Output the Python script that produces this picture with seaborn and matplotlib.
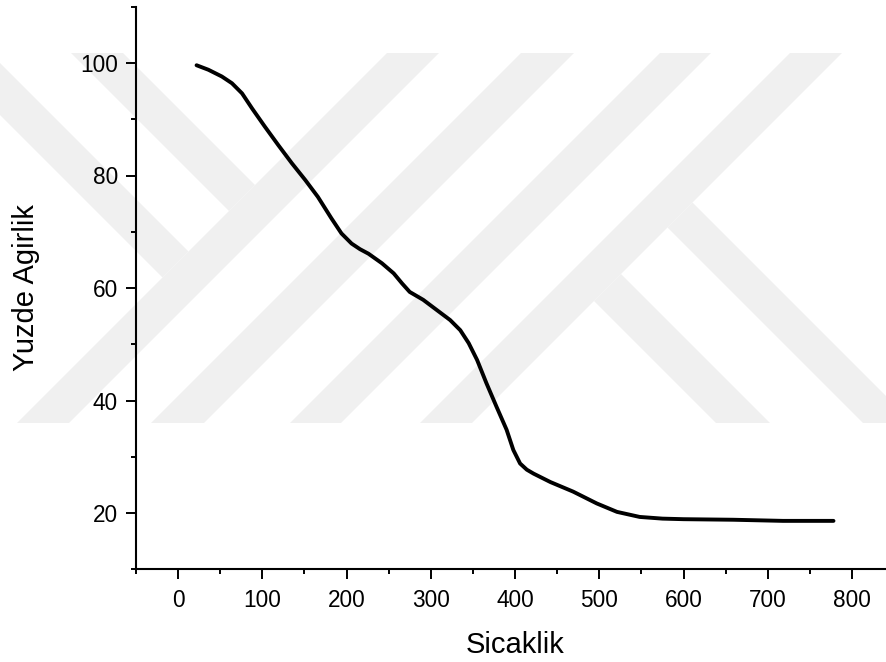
import numpy as np
import pandas as pd
import matplotlib
matplotlib.use("Agg")
import matplotlib.pyplot as plt
from matplotlib.patches import Polygon
from matplotlib.ticker import MultipleLocator
import seaborn as sns

# ---- data ----
temperature = [22, 36, 52, 64, 76, 88, 103, 119, 135, 151, 166, 182, 194, 206,
               216, 226, 242, 256, 266, 275, 291, 307, 323, 335, 345, 355,
               366, 378, 390, 398, 406, 414, 422, 442, 469, 497, 521, 548,
               575, 600, 659, 718, 778]
weight = [99.6, 98.8, 97.6, 96.4, 94.6, 91.9, 88.7, 85.4, 82.2, 79.2, 76.2,
          72.4, 69.7, 67.9, 66.9, 66.1, 64.4, 62.6, 60.8, 59.3, 57.9, 56.1,
          54.3, 52.5, 50.2, 47.2, 43.1, 38.9, 34.8, 31.2, 28.8, 27.7, 27.0,
          25.5, 23.8, 21.7, 20.2, 19.3, 19.0, 18.9, 18.8, 18.6, 18.6]
x_ticks = [0, 100, 200, 300, 400, 500, 600, 700, 800]
y_ticks = [20, 40, 60, 80, 100]
x_label = "Sicaklik"
y_label = "Yuzde Agirlik"

df = pd.DataFrame({"T": temperature, "W": weight})

sns.set_style("ticks")
plt.rcParams["font.family"] = ["Liberation Sans", "DejaVu Sans"]
for k in ["text.color", "axes.labelcolor", "xtick.color", "ytick.color",
          "axes.edgecolor"]:
    plt.rcParams[k] = "black"

W, H = 887, 662
fig = plt.figure(figsize=(W / 100, H / 100), dpi=100)
fig.patch.set_facecolor("white")

# ---- faint background watermark (pixel geometry) ----
def px(pts):
    return [(x / W, 1 - y / H) for x, y in pts]

y0, y1 = 53, 423
bands_c = [(440, 492), (574, 627), (713, 764), (843, 895)]
shapes = []
for c0, c1 in bands_c:
    shapes.append([(c0 - y0, y0), (c1 - y0, y0), (c1 - y1, y1), (c0 - y1, y1)])
shapes.append([(71, 53), (123, 53), (255, 185), (229, 211)])
shapes.append([(-62, 53), (-10, 53), (188.5, 251.5), (162.5, 277.5)])
shapes.append([(692.5, 202.5), (913, 423), (863, 423), (667.5, 227.5)])
shapes.append([(621, 274), (770, 423), (716, 423), (594, 301)])
for s in shapes:
    fig.patches.append(Polygon(px(s), closed=True, transform=fig.transFigure,
                               facecolor="#f0f0f0", edgecolor="none", zorder=-5))

# ---- axes ----
left_px, right_px = 135.9, 135.9 + 900 * 0.8425
bottom_px, top_px = 569.25, 6.75
ax = fig.add_axes([left_px / W, 1 - bottom_px / H,
                   (right_px - left_px) / W, (bottom_px - top_px) / H])
ax.set_zorder(2)
ax.patch.set_alpha(0)

sns.lineplot(data=df, x="T", y="W", ax=ax, color="black", linewidth=2.8,
             sort=False, estimator=None)
for ln in ax.get_lines():
    ln.set_solid_joinstyle("round")
    ln.set_solid_capstyle("round")

ax.set_xlim(-50, 850)
ax.set_ylim(10, 110)
ax.set_xticks(x_ticks)
ax.set_yticks(y_ticks)
ax.xaxis.set_minor_locator(MultipleLocator(50))
ax.yaxis.set_minor_locator(MultipleLocator(10))

for side in ["top", "right"]:
    ax.spines[side].set_visible(False)
for side in ["left", "bottom"]:
    ax.spines[side].set_linewidth(1.5)
    ax.spines[side].set_color("black")

ax.tick_params(which="major", direction="out", length=7, width=1.4,
               labelsize=16.3, colors="black", pad=6)
ax.tick_params(which="minor", direction="out", length=3.6, width=1.4,
               colors="black")
ax.tick_params(axis="x", which="major", pad=7)

ax.set_xlabel(x_label, fontsize=21, labelpad=14, color="black")
ax.set_ylabel(y_label, fontsize=21, labelpad=29, color="black")

fig.savefig("out.png", dpi=100)
